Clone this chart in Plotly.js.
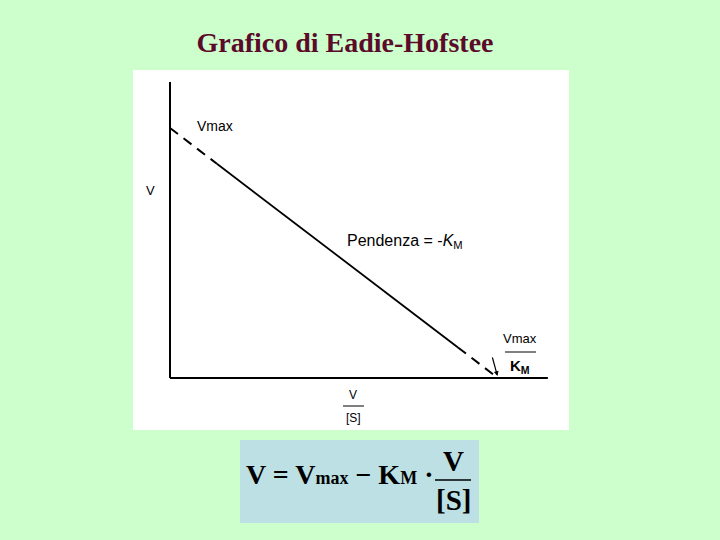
<!DOCTYPE html>
<html>
<head>
<meta charset="utf-8">
<script src="https://cdn.plot.ly/plotly-3.0.1.min.js"></script>
<style>html,body{margin:0;padding:0;background:#CCFFCC;}#chart{width:720px;height:540px;}</style>
</head>
<body>
<div id="chart"></div>
<script>
// Data (Eadie-Hofstee: V = Vmax - KM * V/[S])
const vmaxValue = 10;          // y-intercept
const vmaxOverKm = 10;         // x-intercept
const measuredX = [1.43, 8.78]; // V/[S] range of measured (solid) line
const measuredY = [8.57, 1.22]; // V range of measured (solid) line
const axisXMax = 11.52;
const axisYMax = 11.84;

// layout helpers: pixel -> paper coords (plot area = white box 133..569 x 70..430)
const L = 133, R = 569, T = 70, B = 430;
const px = x => (x - L) / (R - L);
const py = y => (B - y) / (B - T);

const lineColor = '#000000';
const traces = [
  { x: [0, measuredX[0]], y: [vmaxValue, measuredY[0]], mode: 'lines',
    line: { color: lineColor, width: 2, dash: '10px,7px' }, hoverinfo: 'skip' },
  { x: measuredX, y: measuredY, mode: 'lines',
    line: { color: lineColor, width: 1.8 }, hoverinfo: 'skip' },
  { x: [measuredX[1], vmaxOverKm], y: [measuredY[1], 0], mode: 'lines',
    line: { color: lineColor, width: 2, dash: '10px,7px' }, hoverinfo: 'skip' }
];

const sans = 'Liberation Sans, Arial, sans-serif';
const serif = 'Liberation Serif, Times New Roman, serif';

function label(xp, yp, text, font) {
  return { xref: 'paper', yref: 'paper', x: px(xp), y: py(yp), text: text, showarrow: false,
    xanchor: 'center', yanchor: 'middle', font: font };
}

const annotations = [
  label(215, 126, 'Vmax', { family: sans, size: 14, color: '#000' }),
  label(150, 190, 'V', { family: sans, size: 13, color: '#000' }),
  label(405, 241, 'Pendenza = -<i>K</i><sub>M</sub>', { family: sans, size: 16, color: '#000' }),
  label(520, 338, 'Vmax', { family: sans, size: 13, color: '#000' }),
  label(520, 366, '<b>K</b><sub><b>M</b></sub>', { family: sans, size: 15, color: '#000' }),
  label(353, 395, 'V', { family: sans, size: 12, color: '#000' }),
  label(353, 418, '[S]', { family: sans, size: 12, color: '#000' }),
  // small arrow pointing at x-intercept
  { xref: 'x', yref: 'y', x: vmaxOverKm, y: 0, ax: -6, ay: -22, text: '', showarrow: true,
    arrowhead: 2, arrowsize: 0.8, arrowwidth: 1.2, arrowcolor: '#000', standoff: 2 },
  // formula
  label(339, 474, '<b>V = V<span style="font-size:18px">max</span> \u2212 K<span style="font-size:18px">M</span> \u00b7</b>',
    { family: serif, size: 28, color: '#000' }),
  label(453, 461, '<b>V</b>', { family: serif, size: 29, color: '#000' }),
  label(453, 500, '<b>[S]</b>', { family: serif, size: 29, color: '#000' })
];

const shapes = [
  // formula box
  { type: 'rect', xref: 'paper', yref: 'paper', x0: px(240), x1: px(479), y0: py(523), y1: py(440),
    fillcolor: '#BCE0E4', line: { width: 0 }, layer: 'below' },
  // axes
  { type: 'line', xref: 'x', yref: 'y', x0: 0, x1: 0, y0: 0, y1: axisYMax, line: { color: '#000', width: 2 } },
  { type: 'line', xref: 'x', yref: 'y', x0: 0, x1: axisXMax, y0: 0, y1: 0, line: { color: '#000', width: 2 } },
  // fraction bars
  { type: 'line', xref: 'paper', yref: 'paper', x0: px(505), x1: px(536), y0: py(352), y1: py(352), line: { color: '#000', width: 1 } },
  { type: 'line', xref: 'paper', yref: 'paper', x0: px(343), x1: px(364), y0: py(406), y1: py(406), line: { color: '#000', width: 1 } },
  { type: 'line', xref: 'paper', yref: 'paper', x0: px(435), x1: px(471), y0: py(480), y1: py(480), line: { color: '#000', width: 1.5 } }
];

const xScale = 32.8, yScale = 25, ox = 170, oy = 378;
const layout = {
  width: 720, height: 540,
  paper_bgcolor: '#CCFFCC', plot_bgcolor: '#FFFFFF',
  margin: { l: L, r: 720 - R, t: T, b: 540 - B, pad: 0 },
  showlegend: false,
  title: { text: '<b>Grafico di Eadie-Hofstee</b>', x: 345 / 720, xanchor: 'center', y: 1 - 42 / 540, yanchor: 'middle',
    font: { family: serif, size: 28, color: '#5C0A2A' } },
  xaxis: { range: [(L - ox) / xScale, (R - ox) / xScale], visible: false, fixedrange: true },
  yaxis: { range: [(oy - B) / yScale, (oy - T) / yScale], visible: false, fixedrange: true },
  annotations: annotations,
  shapes: shapes
};

Plotly.newPlot('chart', traces, layout, { displayModeBar: false, staticPlot: true });
</script>
</body>
</html>
